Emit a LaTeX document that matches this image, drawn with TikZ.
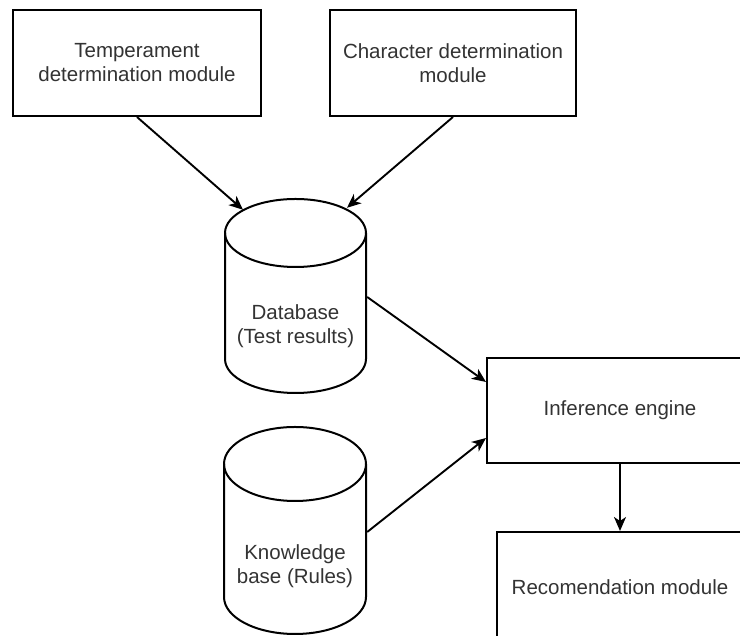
\documentclass[tikz,border=0pt]{standalone}
\usepackage{fontspec}
\setmainfont{Liberation Sans}
\usetikzlibrary{arrows.meta,calc}
\definecolor{txt}{HTML}{333333}
\tikzset{
  every node/.style={font=\fontsize{20.5}{24}\selectfont, text=txt, align=center},
  box/.style={draw=black, line width=2pt, fill=white, rectangle, inner sep=0pt},
  ghost/.style={rectangle, inner sep=0pt},
  cyl/.style={draw=black, line width=2pt, fill=white},
  conn/.style={draw=black, line width=1.9pt, -{Stealth[length=14pt,width=12pt,inset=4pt]}},
}
\begin{document}
\begin{tikzpicture}[x=1pt,y=1pt]
\useasboundingbox (0,0) rectangle (740,636);
\clip (0,0) rectangle (740,636);
\fill[white] (0,0) rectangle (740,636);

% boxes
\node[box, minimum width=248pt, minimum height=106pt] (temp) at (137,573) {Temperament\\determination module};
\node[box, minimum width=246pt, minimum height=106pt] (char) at (453,573) {Character determination\\module};
\node[box, minimum width=266pt, minimum height=105pt] (inf) at (620,225.5) {Inference engine};
\node[box, minimum width=246pt, minimum height=110pt] (rec) at (620,49) {Recomendation module};

% database cylinder
\draw[cyl] (225,403) -- (225,277) arc[start angle=180,end angle=360,x radius=70.5,y radius=34] -- (366,403) arc[start angle=0,end angle=180,x radius=70.5,y radius=34] -- cycle;
\draw[cyl, fill=none] (225,403) arc[start angle=180,end angle=360,x radius=70.5,y radius=34];
\node[ghost, minimum width=141pt, minimum height=194pt] (db) at (295.5,340) {};
\node (dbtext) at (295.5,310) {Database\\(Test results)};

% knowledge base cylinder
\draw[cyl] (224,172) -- (224,39) arc[start angle=180,end angle=360,x radius=71,y radius=37] -- (366,172) arc[start angle=0,end angle=180,x radius=71,y radius=37] -- cycle;
\draw[cyl, fill=none] (224,172) arc[start angle=180,end angle=360,x radius=71,y radius=37];
\node[ghost, minimum width=142pt, minimum height=207pt] (kb) at (295,105.5) {};
\node (kbtext) at (295,70) {Knowledge\\base (Rules)};

% connectors
\draw[conn] (temp.south) -- ($(db.north)+(-52.5,-11)$);
\draw[conn] (char.south) -- ($(db.north)+(51.5,-9)$);
\draw[conn] ($(db.east)+(1,-1)$) -- ($(inf.west)+(0,28.5)$);
\draw[conn] ($(kb.east)+(1,-1.5)$) -- ($(inf.west)+(0,-27.5)$);
\draw[conn] (inf.south) -- (rec.north);
\end{tikzpicture}
\end{document}
